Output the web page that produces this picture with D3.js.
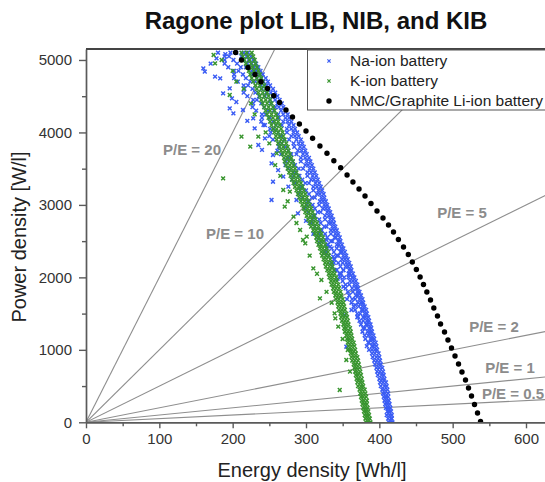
<!DOCTYPE html>
<html>
<head>
<meta charset="utf-8">
<script src="https://cdn.jsdelivr.net/npm/d3@7"></script>
<style>
  body { margin: 0; background: #fff; }
  svg { display: block; font-family: "Liberation Sans", Arial, sans-serif; }
</style>
</head>
<body>
<svg id="chart" width="545" height="482"></svg>
<script>
// ---- data -------------------------------------------------------------
const seriesNames = ["Na-ion battery", "K-ion battery", "NMC/Graphite Li-ion battery"];
const seriesColors = ["#3a5cf4", "#38952e", "#000000"];

const xTicks = [0, 100, 200, 300, 400, 500, 600];
const xMinorTicks = [50, 150, 250, 350, 450, 550];
const yTicks = [0, 1000, 2000, 3000, 4000, 5000];
const yMinorTicks = [500, 1500, 2500, 3500, 4500];

// constant power-to-energy ratios (lines through the origin)
const ratios = [20, 10, 5, 2, 1, 0.5];
const ratioLabels = ["P/E = 20", "P/E = 10", "P/E = 5", "P/E = 2", "P/E = 1", "P/E = 0.5"];

// NMC/Graphite Li-ion cell: energy density [Wh/l] and power density [W/l]
const nmcEnergy = [204, 212, 221, 230.5, 238.6, 247.5, 256, 264, 272.7, 281.6, 291, 300, 309, 319, 328.6,
  338, 347.3, 356, 364, 372.3, 380.5, 388.6, 396.8, 405, 412.5, 419.3, 426, 433, 439.5, 445, 450.5, 455.6,
  460.2, 464.8, 469.8, 474.3, 479.3, 483.5, 488.9, 493.6, 498.4, 503.2, 508, 512.7, 517.5, 521.6, 525.7,
  529.8, 533.9, 538];
const nmcPower = [5104, 5000, 4896, 4800, 4700, 4607, 4507, 4414, 4310, 4213, 4117, 4020, 3919, 3813, 3712,
  3610, 3514, 3413, 3316, 3220, 3123, 3020, 2916, 2820, 2723, 2626, 2523, 2419, 2316, 2212, 2109, 2005,
  1902, 1798, 1688, 1577, 1467, 1357, 1246, 1136, 1025, 915, 805, 694, 584, 473, 363, 246, 128, 11];

// Na-ion cell designs: each row is [power density, energy densities...]
const naRows = [
  [0,418,415,413],[50,417,416,412],[100,417,414,410],[150,416,413,411],[200,415,412,409],
  [250,414,411,408],[300,413,410,407],[350,412,409,406],[400,412,408,405],[450,411,407,404],
  [500,410,407,402],[550,409,405,401],[600,407,404,400],[650,406,403,398],[700,405,401,397],
  [750,404,400,396],[800,402,399,394],[850,401,397,393],[900,400,396,391],[950,399,394,390],
  [1000,397,394,390,386],[1050,396,392,390,383],[1100,395,391,386,385],[1150,393,390,388,381],
  [1200,392,388,385,380],[1250,390,387,384,377],[1300,389,386,380,378],[1350,388,384,382,375],
  [1400,386,383,378,373],[1450,385,381,378,370],[1500,383,380,374,370],[1550,382,378,376,367],
  [1600,380,377,372,365],[1650,378,375,371,362],[1700,377,373,367,363],[1750,375,371,368,359],
  [1800,373,370,364,357],[1850,371,368,363,354],[1900,370,366,359,354],[1950,368,364,360,350],
  [2000,366,363,358,352,347],[2050,364,360,358,346,348],[2100,362,359,351,351,340],[2150,361,357,354,347,336],
  [2200,359,355,350,344,338],[2250,357,353,349,339,338],[2300,355,351,344,342,331],[2350,353,349,347,338,327],
  [2400,351,348,342,335,328],[2450,349,345,342,330,329],[2500,347,344,336,334,321],[2550,346,341,339,329,317],
  [2600,344,340,334,326,318],[2650,342,338,334,321,319],[2700,340,336,328,325,312],[2750,338,334,331,320,307],
  [2800,337,333,326,318,309],[2850,335,331,326,312,310],[2900,333,329,320,316,303],[2950,331,327,323,312,299],
  [3000,329,325,318,309,301],[3050,327,323,319,304,302],[3100,325,321,312,308,295],[3150,324,319,315,304,290],
  [3200,322,317,310,300,292],[3250,320,315,310,295,293],[3300,318,313,304,299,285],[3350,316,311,307,295,281],
  [3400,314,309,302,291,283],[3450,312,307,302,286,283],[3500,310,305,296,290,276],[3550,308,303,299,285,272],
  [3600,306,301,293,282,273],[3650,304,299,293,277,274],[3700,301,296,287,280,266],[3750,299,294,289,276,261],
  [3800,297,292,284,272,263],[3850,295,290,283,267,263],[3900,293,287,277,270,255],[3950,290,285,280,266,250],
  [4000,288,283,274,262,252],[4050,285,280,274,256,251],[4100,283,277,267,259,244],[4150,280,275,269,255,239],
  [4200,277,272,263,251,240],[4250,275,269,262,245,240],[4300,272,266,256,248,232],[4350,269,263,258,243,227],
  [4400,267,261,252,239,228],[4450,264,258,251,233,228],[4500,261,255,244,236,220],[4550,258,252,246,231,215],
  [4600,255,249,240,227,216],[4650,251,246,239,221,215],[4700,248,242,231,224,207],[4750,245,239,233,218,202],
  [4800,241,236,227,214,202],[4850,238,232,226,208,202],[4900,235,229,218,211,194],[4950,232,226,220,206,189],
  [5000,228,222,214,201,189],[5050,225,219,212,195,189],[5100,221,215,205,197,180]
];
// Na-ion designs away from the main band: [energy, power]
const naScatter = [
  [160,4885],[162,4838],[176,4770],[178,5023],[196,4609],[187,4540],[199,4471],[196,4333],[201,4264],
  [183,4747],[230,4057],[228,4195],[242,4103],[235,3827],[244,3919],[255,3689],[253,3574],[255,3320],
  [253,3068],[269,3390],[276,3252],[287,3068],[289,2884],[321,2654],[328,2516],[333,2424],[337,2286],
  [342,2102],[346,2056],[351,1871],[353,1481],[355,1043],[367,1619],[371,1457],[190,5080],[170,4950],
  [205,4420],[214,4310],[220,4160],[240,3760],[262,3480],[300,2780],[310,2600],[318,2480],[325,2330],
  [334,2200],[343,1980],[356,1700],[362,1550]
];

// K-ion cell designs: each row is [power density, energy densities...]
const kRows = [
  [0,388,385,382],[50,387,384,381],[100,386,383,380],[150,385,382,379],[200,384,381,378],
  [250,383,380,377],[300,383,379,376],[350,382,378,375],[400,381,377,374],[450,380,376,373],
  [500,378,375,371],[550,377,374,370],[600,376,372,369],[650,375,371,368],[700,374,370,367],
  [750,373,369,366],[800,372,368,365],[850,371,367,363],[900,370,366,362],[950,368,364,361],
  [1000,367,363,360],[1050,366,362,358],[1100,365,361,357],[1150,363,359,356],[1200,362,358,355],
  [1250,361,357,353],[1300,360,355,352],[1350,358,354,351],[1400,357,353,349],[1450,356,352,348],
  [1500,355,350,347],[1550,353,349,345],[1600,352,348,344],[1650,351,347,343],[1700,350,345,341],
  [1750,348,344,340],[1800,347,342,338],[1850,345,341,337],[1900,344,339,335],[1950,342,338,334],
  [2000,341,336,332],[2050,339,335,331],[2100,338,333,329],[2150,336,332,327],[2200,335,330,326],
  [2250,333,328,324],[2300,331,327,322],[2350,330,325,321],[2400,328,323,319],[2450,326,321,317],
  [2500,324,320,315],[2550,323,318,314],[2600,321,316,312],[2650,319,314,310],[2700,317,312,307],
  [2750,315,310,305],[2800,313,308,303],[2850,311,306,301],[2900,309,304,299],[2950,307,302,297],
  [3000,305,300,295],[3050,303,298,293],[3100,301,296,291],[3150,299,294,289],[3200,297,292,287],
  [3250,295,290,285],[3300,293,288,283],[3350,291,286,281],[3400,289,284,279],[3450,287,282,277],
  [3500,285,280,275],[3550,283,278,273],[3600,282,277,271],[3650,280,275,270],[3700,278,273,268],
  [3750,276,271,266],[3800,275,269,264],[3850,273,267,262],[3900,271,266,260],[3950,269,264,259],
  [4000,268,262,257],[4050,266,260,255],[4100,264,259,253],[4150,262,257,251],[4200,261,255,249],
  [4250,259,253,247],[4300,257,251,245],[4350,255,249,243],[4400,253,247,241],[4450,251,245,239],
  [4500,249,243,237],[4550,247,241,235],[4600,245,239,233],[4650,243,237,231],[4700,241,235,228],
  [4750,239,233,226],[4800,237,231,224],[4850,235,229,222],[4900,233,227,220],[4950,231,225,218],
  [5000,230,223,216],[5050,228,221,214],[5100,226,219,212]
];
// K-ion designs away from the main band: [energy, power]
const kScatter = [
  [187,3367],[176,4954],[174,5069],[196,4517],[212,3942],[224,3804],[235,3942],[260,3712],[269,3206],
  [271,2976],[278,3183],[283,2838],[292,2654],[296,2516],[301,2562],[299,2470],[310,2125],[321,1964],
  [319,1711],[339,1504],[340,1435],[344,1320],[355,860],[346,446],[357,998],[205,4700],[215,4600],
  [225,4400],[200,4850],[185,5000],[230,4250],[245,4000],[250,3850],[258,3550],[265,3400],[275,3050],
  [287,2750],[305,2300],[315,2050],[328,1800],[335,1650],[350,1150],[360,700]
];

// ---- layout -----------------------------------------------------------
const svg = d3.select("#chart");
const plotLeft = 86, plotBottom = 422.3, plotTop = 49.1;
const x = d3.scaleLinear().domain([0, 630]).range([plotLeft, plotLeft + 630 * 0.73333]);
const y = d3.scaleLinear().domain([0, 5150]).range([plotBottom, plotTop]);
const xMax = x.domain()[1], yMax = y.domain()[1];

svg.append("defs").append("clipPath").attr("id", "plotClip")
  .append("rect").attr("x", plotLeft).attr("y", plotTop)
  .attr("width", 545 - plotLeft).attr("height", plotBottom - plotTop);

const plot = svg.append("g").attr("clip-path", "url(#plotClip)");

// constant P/E lines
plot.selectAll("line.ratio").data(ratios).enter().append("line")
  .attr("class", "ratio")
  .attr("x1", x(0)).attr("y1", y(0))
  .attr("x2", r => x(Math.min(xMax, yMax / r)))
  .attr("y2", r => y(Math.min(yMax, r * xMax)))
  .attr("stroke", "#8e8e8e").attr("stroke-width", 1.1);

// cross markers
const cross = a => `M${-a},${-a}L${a},${a}M${-a},${a}L${a},${-a}`;
function rowsToPoints(rows) {
  const pts = [];
  rows.forEach(r => r.slice(1).forEach(e => pts.push([e, r[0]])));
  return pts;
}
function drawCrosses(points, color) {
  plot.append("g").selectAll("path").data(points).enter().append("path")
    .attr("transform", d => `translate(${x(d[0])},${y(d[1])})`)
    .attr("d", cross(1.9))
    .attr("stroke", color).attr("stroke-width", 1.45).attr("fill", "none");
}
drawCrosses(rowsToPoints(naRows).concat(naScatter), seriesColors[0]);
drawCrosses(rowsToPoints(kRows).concat(kScatter), seriesColors[1]);

// NMC/Graphite dots
plot.append("g").selectAll("circle").data(d3.range(nmcEnergy.length)).enter().append("circle")
  .attr("cx", i => x(nmcEnergy[i])).attr("cy", i => y(nmcPower[i]))
  .attr("r", 2.7).attr("fill", seriesColors[2]);

// ratio labels
const labelAnchor = [[192, 150], [235, 234], [462, 212.5], [494, 326.5], [510, 367.5], [513, 394]];
svg.append("g").selectAll("text").data(ratioLabels).enter().append("text")
  .attr("x", (d, i) => labelAnchor[i][0]).attr("y", (d, i) => labelAnchor[i][1])
  .attr("dy", "0.35em").attr("text-anchor", "middle")
  .attr("font-size", 15).attr("font-weight", "bold").attr("fill", "#8c8c8c")
  .text(d => d);

// ---- axes -------------------------------------------------------------
const axisColor = "#5a5a5a";
const gx = svg.append("g").attr("transform", `translate(0,${plotBottom})`)
  .call(d3.axisBottom(x).tickValues(xTicks).tickFormat(d3.format("d"))
    .tickSize(6).tickSizeOuter(0).tickPadding(5));
svg.append("g").attr("transform", `translate(0,${plotBottom})`)
  .call(d3.axisBottom(x).tickValues(xMinorTicks).tickSize(4).tickFormat("").tickSizeOuter(0))
  .select(".domain").remove();
const gy = svg.append("g").attr("transform", `translate(${plotLeft},0)`)
  .call(d3.axisLeft(y).tickValues(yTicks).tickFormat(d3.format("d"))
    .tickSize(7).tickSizeOuter(0).tickPadding(7));
svg.append("g").attr("transform", `translate(${plotLeft},0)`)
  .call(d3.axisLeft(y).tickValues(yMinorTicks).tickSize(4).tickFormat("").tickSizeOuter(0))
  .select(".domain").remove();

svg.selectAll(".domain").attr("stroke", axisColor).attr("stroke-width", 1.7);
svg.selectAll(".tick line").attr("stroke", axisColor).attr("stroke-width", 1.4);
gx.selectAll(".tick text").attr("font-size", 15).attr("fill", "#333").attr("font-family", "Liberation Sans, Arial, sans-serif");
gy.selectAll(".tick text").attr("font-size", 15).attr("fill", "#333").attr("font-family", "Liberation Sans, Arial, sans-serif");

// top frame line
svg.append("line").attr("x1", plotLeft).attr("x2", 545).attr("y1", plotTop).attr("y2", plotTop)
  .attr("stroke", "#444").attr("stroke-width", 2);

// ---- legend -----------------------------------------------------------
const lg = svg.append("g");
lg.append("rect").attr("x", 307.5).attr("y", 50).attr("width", 260).attr("height", 60)
  .attr("fill", "#fff").attr("stroke", "#555").attr("stroke-width", 1);
seriesNames.forEach((name, i) => {
  const cy = 61 + i * 20;
  if (i < 2) {
    lg.append("path").attr("transform", `translate(329,${cy})`).attr("d", cross(1.6))
      .attr("stroke", seriesColors[i]).attr("stroke-width", 1.15).attr("fill", "none");
  } else {
    lg.append("circle").attr("cx", 329).attr("cy", cy).attr("r", 2.7).attr("fill", seriesColors[i]);
  }
  lg.append("text").attr("x", 350).attr("y", cy).attr("dy", "0.35em")
    .attr("font-size", 15.5).attr("fill", "#222").text(name);
});

// ---- titles -----------------------------------------------------------
svg.append("text").attr("x", 316).attr("y", 29).attr("text-anchor", "middle")
  .attr("font-size", 24).attr("font-weight", "bold").attr("fill", "#111")
  .text("Ragone plot LIB, NIB, and KIB");
svg.append("text").attr("x", 312).attr("y", 477).attr("text-anchor", "middle")
  .attr("font-size", 20).attr("fill", "#222").text("Energy density [Wh/l]");
svg.append("text").attr("transform", "translate(26,237) rotate(-90)").attr("text-anchor", "middle")
  .attr("font-size", 20).attr("fill", "#222").text("Power density [W/l]");
</script>
</body>
</html>
